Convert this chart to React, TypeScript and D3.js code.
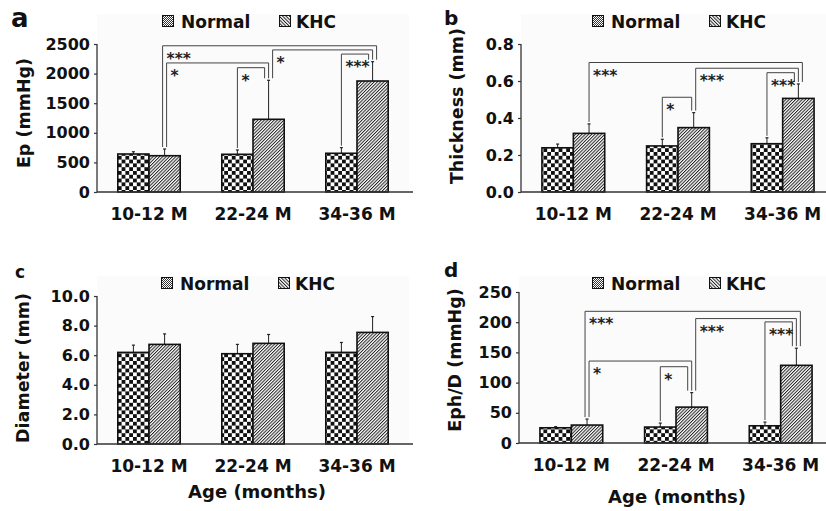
import * as d3 from "d3";
import { useEffect, useRef } from "react";

const groups = ["10-12 M", "22-24 M", "34-36 M"];
const seriesNames = ["Normal", "KHC"];

// a: Ep
const epNormal = [642, 637, 654];
const epNormalErr = [38, 73, 95];
const epKhc = [613, 1228, 1875];
const epKhcErr = [113, 659, 326];
const epTicks = [0, 500, 1000, 1500, 2000, 2500];
// significance brackets: [fromGroup, fromSeries, toGroup, toSeries, level, label]
const epSig = [
  [0, 1, 2, 1, 2470, "***"],
  [0, 1, 1, 1, 2180, "*"],
  [1, 0, 1, 1, 2100, "*"],
  [1, 1, 2, 1, 2400, "*"],
  [2, 0, 2, 1, 2330, "***"],
];

// b: Thickness
const thNormal = [0.239, 0.249, 0.261];
const thNormalErr = [0.02, 0.036, 0.032];
const thKhc = [0.317, 0.348, 0.506];
const thKhcErr = [0.051, 0.081, 0.078];
const thTicks = [0, 0.2, 0.4, 0.6, 0.8];
const thSig = [
  [0, 1, 2, 1, 0.7, "***"],
  [1, 0, 1, 1, 0.512, "*"],
  [1, 1, 2, 1, 0.669, "***"],
  [2, 0, 2, 1, 0.645, "***"],
];

// c: Diameter
const diNormal = [6.19, 6.1, 6.19];
const diNormalErr = [0.49, 0.63, 0.67];
const diKhc = [6.73, 6.8, 7.54];
const diKhcErr = [0.71, 0.6, 1.07];
const diTicks = [0, 2, 4, 6, 8, 10];

// d: Eph/D
const edNormal = [25.2, 26.4, 28.5];
const edNormalErr = [1.8, 6.6, 6.1];
const edKhc = [29.7, 59.4, 128.6];
const edKhcErr = [9.9, 24, 28.4];
const edTicks = [0, 50, 100, 150, 200, 250];
const edSig = [
  [0, 1, 2, 1, 218, "***"],
  [0, 1, 1, 1, 135.7, "*"],
  [1, 0, 1, 1, 126.3, "*"],
  [1, 1, 2, 1, 206, "***"],
  [2, 0, 2, 1, 200.5, "***"],
];

const FONT = "'DejaVu Sans', sans-serif";

const panels = [
  {
    letter: "a", letterSize: 26, letterX: 11, letterY: 26.5,
    x0: 97, width: 312, y0: 192, y1: 44, yMax: 2500, ticks: epTicks, fmt: d3.format("d"),
    title: "Ep (mmHg)", titleX: 29.5, titleY: 113, legendX: 162, legendY: 15,
    normal: epNormal, normalErr: epNormalErr, khc: epKhc, khcErr: epKhcErr, sig: epSig,
  },
  {
    letter: "b", letterSize: 20, letterX: 444, letterY: 25,
    x0: 521, width: 314, y0: 192, y1: 44, yMax: 0.8, ticks: thTicks, fmt: d3.format(".1f"),
    title: "Thickness (mm)", titleX: 462.5, titleY: 106, legendX: 592, legendY: 15,
    normal: thNormal, normalErr: thNormalErr, khc: thKhc, khcErr: thKhcErr, sig: thSig,
  },
  {
    letter: "c", letterSize: 17, letterX: 15, letterY: 278,
    x0: 97, width: 312, y0: 444, y1: 296, yMax: 10, ticks: diTicks, fmt: d3.format(".1f"),
    title: "Diameter (mm)", titleX: 28.5, titleY: 368, legendX: 161, legendY: 277,
    normal: diNormal, normalErr: diNormalErr, khc: diKhc, khcErr: diKhcErr, sig: [],
    xTitleX: 257, xTitleY: 498,
  },
  {
    letter: "d", letterSize: 20, letterX: 444, letterY: 276.5,
    x0: 519, width: 314, y0: 443, y1: 292, yMax: 250, ticks: edTicks, fmt: d3.format("d"),
    title: "Eph/D (mmHg)", titleX: 461, titleY: 360, legendX: 592, legendY: 277,
    normal: edNormal, normalErr: edNormalErr, khc: edKhc, khcErr: edKhcErr, sig: edSig,
    xTitleX: 677, xTitleY: 503,
  },
];

const App = () => {
  const ref = useRef(null);

  useEffect(() => {
    const svg = d3.select(ref.current);
    svg.selectAll("*").remove();

    // patterns
    const defs = svg.append("defs");
    const checker = defs.append("pattern").attr("id", "checker")
      .attr("patternUnits", "userSpaceOnUse").attr("width", 7.6).attr("height", 7.6);
    checker.append("rect").attr("width", 7.6).attr("height", 7.6).attr("fill", "#fff");
    checker.append("rect").attr("width", 3.8).attr("height", 3.8).attr("fill", "#111");
    checker.append("rect").attr("x", 3.8).attr("y", 3.8).attr("width", 3.8).attr("height", 3.8).attr("fill", "#111");

    const hatch = defs.append("pattern").attr("id", "hatch")
      .attr("patternUnits", "userSpaceOnUse").attr("width", 2.3).attr("height", 8)
      .attr("patternTransform", "rotate(45)");
    hatch.append("rect").attr("width", 2.3).attr("height", 8).attr("fill", "#fff");
    hatch.append("line").attr("x1", 0.5).attr("x2", 0.5).attr("y1", 0).attr("y2", 8)
      .attr("stroke", "#222").attr("stroke-width", 1);

    const fine = defs.append("pattern").attr("id", "fine")
      .attr("patternUnits", "userSpaceOnUse").attr("width", 2).attr("height", 2);
    fine.append("rect").attr("width", 2).attr("height", 2).attr("fill", "#fff");
    fine.append("rect").attr("width", 1).attr("height", 1).attr("fill", "#333");
    fine.append("rect").attr("x", 1).attr("y", 1).attr("width", 1).attr("height", 1).attr("fill", "#333");

    const hatchL = defs.append("pattern").attr("id", "hatchL")
      .attr("patternUnits", "userSpaceOnUse").attr("width", 2.4).attr("height", 8)
      .attr("patternTransform", "rotate(-45)");
    hatchL.append("rect").attr("width", 2.4).attr("height", 8).attr("fill", "#fff");
    hatchL.append("line").attr("x1", 0.5).attr("x2", 0.5).attr("y1", 0).attr("y2", 8)
      .attr("stroke", "#222").attr("stroke-width", 1);

    panels.forEach((p) => {
      const g = svg.append("g");
      const x = d3.scaleBand().domain(groups).range([p.x0, p.x0 + p.width])
        .paddingInner(0.4).paddingOuter(0.2);
      const y = d3.scaleLinear().domain([0, p.yMax]).range([p.y0, p.y1]);
      const bw = x.bandwidth() / 2;

      // faint plot background
      g.append("rect").attr("x", p.x0).attr("y", p.legendY - 1)
        .attr("width", p.width).attr("height", p.y0 - p.legendY + 1).attr("fill", "#fbfbfb");

      // panel letter
      g.append("text").attr("x", p.letterX).attr("y", p.letterY)
        .style("font-family", FONT).style("font-weight", "bold").style("font-size", p.letterSize + "px")
        .attr("fill", "#111").text(p.letter);

      // y axis
      const yAxis = g.append("g").attr("transform", `translate(${p.x0},0)`)
        .call(d3.axisLeft(y).tickValues(p.ticks).tickFormat(p.fmt).tickSize(3).tickPadding(4));
      yAxis.select(".domain").attr("stroke", "#333").attr("stroke-width", 1.3)
        .attr("d", `M0,${p.y1}V${p.y0}`);
      yAxis.selectAll(".tick line").attr("stroke", "#333").attr("stroke-width", 1.2);
      yAxis.selectAll(".tick text").attr("fill", "#111")
        .style("font-family", FONT).style("font-weight", "bold").style("font-size", "16px");

      // y title
      g.append("text").attr("transform", `translate(${p.titleX},${p.titleY}) rotate(-90)`)
        .attr("text-anchor", "middle").attr("fill", "#111")
        .style("font-family", FONT).style("font-weight", "bold").style("font-size", "17.5px")
        .text(p.title);

      // legend
      const lg = g.append("g").attr("transform", `translate(${p.legendX},${p.legendY})`);
      lg.append("rect").attr("x", 0.5).attr("y", 0.5).attr("width", 11).attr("height", 11)
        .attr("fill", "url(#fine)").attr("stroke", "#111").attr("stroke-width", 1);
      lg.append("text").attr("x", 19).attr("y", 12.5).text(seriesNames[0]);
      lg.append("rect").attr("x", 117.5).attr("y", 0.5).attr("width", 11).attr("height", 11)
        .attr("fill", "url(#hatchL)").attr("stroke", "#111").attr("stroke-width", 1);
      lg.append("text").attr("x", 134).attr("y", 12.5).text(seriesNames[1]);
      lg.selectAll("text").attr("fill", "#111")
        .style("font-family", FONT).style("font-weight", "bold").style("font-size", "17px");

      // bars
      const rows = groups.flatMap((grp, i) => [
        { grp, s: 0, v: p.normal[i], e: p.normalErr[i] },
        { grp, s: 1, v: p.khc[i], e: p.khcErr[i] },
      ]);
      // error bars
      g.selectAll("line.err").data(rows).join("line").attr("class", "err")
        .attr("x1", (d) => x(d.grp) + bw * d.s + bw / 2).attr("x2", (d) => x(d.grp) + bw * d.s + bw / 2)
        .attr("y1", (d) => y(d.v)).attr("y2", (d) => y(d.v + d.e))
        .attr("stroke", "#222").attr("stroke-width", 1);
      g.selectAll("line.cap").data(rows).join("line").attr("class", "cap")
        .attr("x1", (d) => x(d.grp) + bw * d.s + bw / 2 - 1.5).attr("x2", (d) => x(d.grp) + bw * d.s + bw / 2 + 1.5)
        .attr("y1", (d) => y(d.v + d.e)).attr("y2", (d) => y(d.v + d.e))
        .attr("stroke", "#222").attr("stroke-width", 1.2);
      g.selectAll("rect.bar").data(rows).join("rect").attr("class", "bar")
        .attr("x", (d) => x(d.grp) + bw * d.s).attr("y", (d) => y(d.v))
        .attr("width", bw).attr("height", (d) => p.y0 - y(d.v))
        .attr("fill", (d) => (d.s ? "url(#hatch)" : "url(#checker)"))
        .attr("stroke", "#111").attr("stroke-width", 1.6);

      // x axis
      g.append("line").attr("x1", p.x0).attr("x2", p.x0 + p.width + 4)
        .attr("y1", p.y0).attr("y2", p.y0).attr("stroke", "#333").attr("stroke-width", 1.3);
      g.selectAll("text.xt").data(groups).join("text").attr("class", "xt")
        .attr("x", (d) => x(d) + x.bandwidth() / 2).attr("y", p.y0 + 27.5)
        .attr("text-anchor", "middle").attr("fill", "#111")
        .style("font-family", FONT).style("font-weight", "bold").style("font-size", "17px")
        .text((d) => d);
      if (p.xTitleX) {
        g.append("text").attr("x", p.xTitleX).attr("y", p.xTitleY).attr("text-anchor", "middle")
          .attr("fill", "#111").style("font-family", FONT).style("font-weight", "bold")
          .style("font-size", "18px").text("Age (months)");
      }

      // significance brackets
      const top = (gi, s) => {
        const v = s ? p.khc[gi] + p.khcErr[gi] : p.normal[gi] + p.normalErr[gi];
        return y(v) - 2;
      };
      const attach = {};
      p.sig.forEach((b, k) => {
        const span = b[2] * 2 + b[3] - (b[0] * 2 + b[1]);
        const kl = `${b[0]}-${b[1]}`;
        const kr = `${b[2]}-${b[3]}`;
        (attach[kl] = attach[kl] || []).push({ k, side: "L", span });
        (attach[kr] = attach[kr] || []).push({ k, side: "R", span });
      });
      const legX = {};
      Object.entries(attach).forEach(([key, list]) => {
        const [gi, s] = key.split("-").map(Number);
        const cx = x(groups[gi]) + bw * s + bw / 2;
        const right = list.filter((a) => a.side === "R").sort((a, b) => a.span - b.span);
        const left = list.filter((a) => a.side === "L").sort((a, b) => b.span - a.span);
        const ordered = [...right, ...left];
        ordered.forEach((a, i) => {
          legX[`${a.k}${a.side}`] = cx + (i - (ordered.length - 1) / 2) * 4;
        });
      });
      p.sig.forEach((b, k) => {
        const xl = legX[`${k}L`];
        const xr = legX[`${k}R`];
        const yl = y(b[4]);
        g.append("path")
          .attr("d", `M${xl},${top(b[0], b[1])}V${yl}H${xr}V${top(b[2], b[3])}`)
          .attr("fill", "none").attr("stroke", "#444").attr("stroke-width", 1);
        g.append("text").attr("x", xl + 4).attr("y", yl + 18).attr("fill", "#222")
          .style("font-family", FONT).style("font-weight", "bold").style("font-size", "15.5px")
          .text(b[5]);
      });
    });
  }, []); // eslint-disable-line react-hooks/exhaustive-deps

  return (
    <svg
      ref={ref}
      width={826}
      height={511}
      style={{ position: "absolute", left: 0, top: 0, background: "#fff" }}
    />
  );
};

export default App;
